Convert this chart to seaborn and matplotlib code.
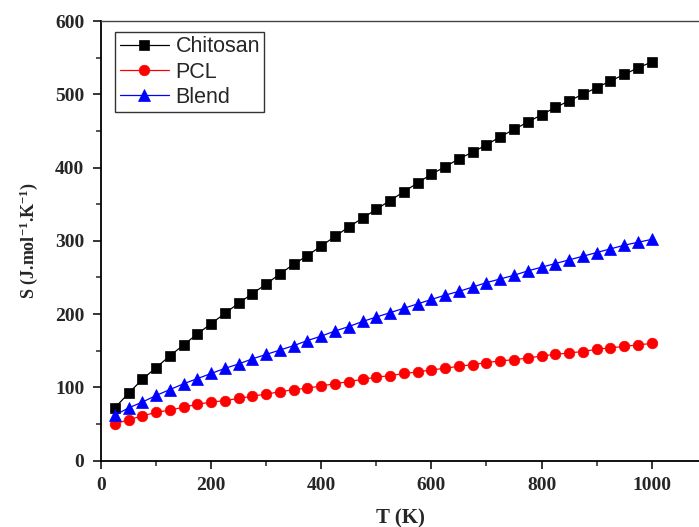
import numpy as np
import pandas as pd
import matplotlib
matplotlib.use("Agg")
import matplotlib.pyplot as plt
from matplotlib.ticker import MultipleLocator
import seaborn as sns

T = list(range(25, 1001, 25))
chitosan = [72, 92, 111, 127, 143, 158, 173, 187, 201, 215, 228, 241, 255, 268,
            280, 293, 306, 319, 331, 343, 355, 367, 379, 391, 401, 412, 421, 431,
            442, 452, 462, 472, 482, 491, 500, 509, 518, 527, 536, 544]
pcl = [50, 56, 61, 66, 69, 73, 77, 80, 82, 85, 88, 91, 94, 97, 99, 102, 105, 108,
       111, 114, 116, 119, 121, 124, 126, 129, 131, 134, 136, 138, 140, 143, 145,
       147, 149, 152, 154, 156, 158, 160]
blend = [62, 72, 80, 89, 97, 105, 112, 119, 126, 132, 139, 145, 151, 157, 164,
         170, 177, 183, 190, 196, 202, 208, 214, 220, 226, 231, 237, 243, 248,
         253, 259, 264, 269, 274, 279, 284, 289, 294, 298, 302]

series_names = ["Chitosan", "PCL", "Blend"]
series_values = [chitosan, pcl, blend]
series_colors = ["#000000", "#ff0000", "#0000ff"]
series_markers = ["s", "o", "^"]
series_msize = [7.2, 7.6, 8.2]

sns.set_style("ticks")
plt.rcParams["font.family"] = ["Liberation Serif", "DejaVu Serif"]
plt.rcParams["mathtext.default"] = "regular"

fig = plt.figure(figsize=(6.99, 5.27), dpi=100)
ax = fig.add_axes([101 / 699, 66.3 / 527, 598 / 699, 439.7 / 527])

for name, vals, col, mk, ms in zip(series_names, series_values, series_colors,
                                    series_markers, series_msize):
    df = pd.DataFrame({"T": T, "S": vals})
    sns.lineplot(data=df, x="T", y="S", ax=ax, color=col, marker=mk,
                 markersize=ms, markeredgecolor=col, markeredgewidth=0.5,
                 linewidth=0.9, label=name)

ax.set_xlim(0, 1086)
ax.set_ylim(0, 600)
ax.xaxis.set_major_locator(MultipleLocator(200))
ax.xaxis.set_minor_locator(MultipleLocator(100))
ax.yaxis.set_major_locator(MultipleLocator(100))
ax.yaxis.set_minor_locator(MultipleLocator(50))
ax.tick_params(which="major", direction="out", length=6, width=1.3,
               labelsize=14, pad=6, top=False, right=False)
ax.tick_params(which="minor", direction="out", length=3.5, width=1.1,
               top=False, right=False)
for lbl in ax.get_xticklabels() + ax.get_yticklabels():
    lbl.set_fontweight("bold")

for s in ["left", "bottom"]:
    ax.spines[s].set_linewidth(1.3)
    ax.spines[s].set_color("black")
ax.spines["top"].set_visible(True)
ax.spines["top"].set_linewidth(1.0)
ax.spines["top"].set_color("#444444")
ax.spines["right"].set_visible(False)

ax.set_xlabel("T (K)", fontsize=15, fontweight="bold", labelpad=10)
ax.set_ylabel(r"S (J.mol$^{-1}$.K$^{-1}$)", fontsize=13, fontweight="bold",
              labelpad=11)

leg = ax.legend(loc="upper left", bbox_to_anchor=(0.024, 0.975),
                prop={"family": "Liberation Sans", "size": 15.5,
                      "weight": "normal"},
                frameon=True, fancybox=False, edgecolor="black",
                handlelength=2.3, handletextpad=0.3, labelspacing=0.2,
                borderpad=0.2, borderaxespad=0.0)
leg.get_frame().set_linewidth(1.0)

fig.savefig("out.png", dpi=100)
